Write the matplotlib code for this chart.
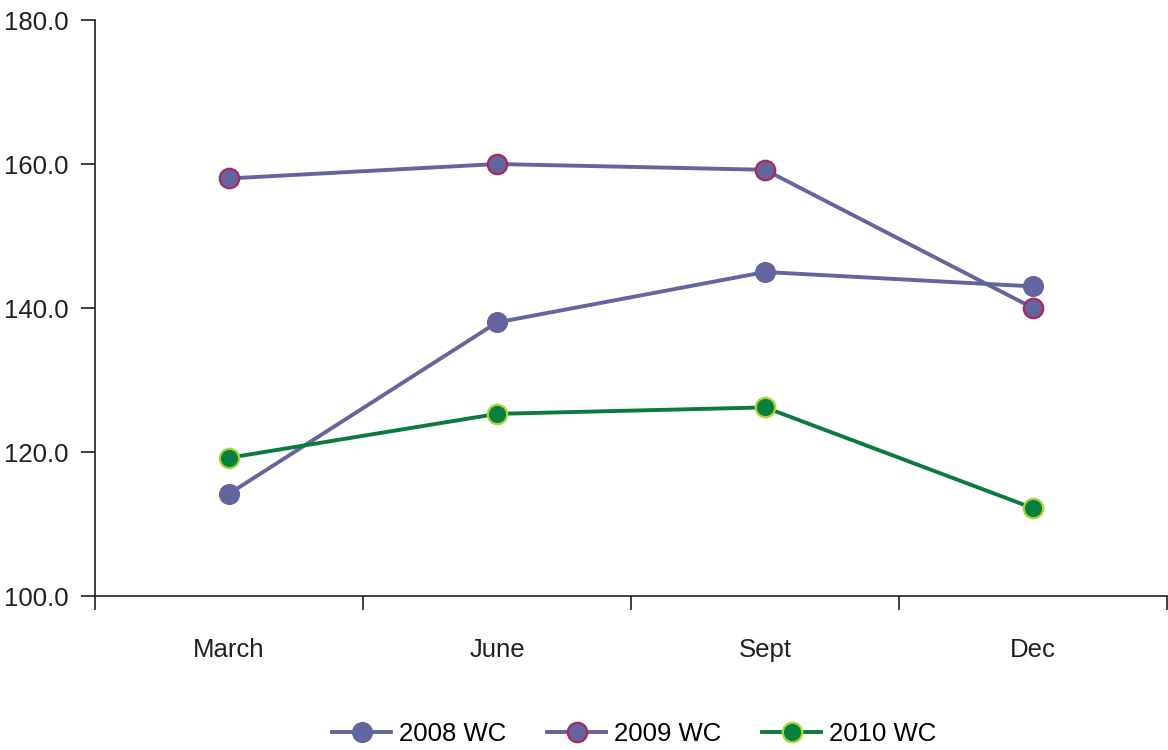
import numpy as np
import matplotlib
matplotlib.use("Agg")
import matplotlib.pyplot as plt

plt.rcParams['font.family'] = ['Liberation Sans', 'DejaVu Sans']

# data
months = ['March', 'June', 'Sept', 'Dec']
wc_2008 = [114.2, 138.0, 145.0, 143.0]
wc_2009 = [158.0, 160.0, 159.2, 140.0]
wc_2010 = [119.2, 125.3, 126.2, 112.2]
y_ticks = [100, 120, 140, 160, 180]

purple = '#64649e'
fig = plt.figure(figsize=(11.68, 7.5), dpi=100)
ax = fig.add_axes([0.0813, 0.2053, 0.918, 0.768])

x = np.arange(len(months))
ax.plot(x, wc_2008, color=purple, lw=2.8, marker='o', ms=14,
        mfc=purple, mec=purple, mew=1.2, label='2008 WC')
ax.plot(x, wc_2009, color=purple, lw=2.8, marker='o', ms=14,
        mfc=purple, mec='#a8285e', mew=1.6, label='2009 WC')
ax.plot(x, wc_2010, color='#0b7a3a', lw=2.8, marker='o', ms=14,
        mfc='#0a8040', mec='#a6d63c', mew=1.6, label='2010 WC')

ax.set_xlim(-0.5, 3.5)
ax.set_ylim(100, 180)
ax.set_yticks(y_ticks)
ax.set_yticklabels([f'{v:.1f}' for v in y_ticks], fontsize=18.5, color='#231f20')

# category labels with no tick marks, boundary ticks as minor
ax.set_xticks(x)
ax.set_xticklabels(months, fontsize=18.5, color='#231f20')
ax.tick_params(axis='x', which='major', length=0, pad=30)
ax.set_xticks([-0.5, 0.5, 1.5, 2.5, 3.5], minor=True)
ax.tick_params(axis='x', which='minor', length=10, width=1.2, color='#231f20', direction='out')
ax.tick_params(axis='y', length=10, width=1.2, color='#231f20', pad=9)

for s in ['top', 'right']:
    ax.spines[s].set_visible(False)
for s in ['left', 'bottom']:
    ax.spines[s].set_linewidth(1.2)
    ax.spines[s].set_color('#231f20')

fig.legend(loc='lower center', bbox_to_anchor=(0.543, -0.025), ncol=3, frameon=False,
           fontsize=18.5, handlelength=2.3, columnspacing=1.6, handletextpad=0.3)

plt.savefig('out.png', dpi=100)
